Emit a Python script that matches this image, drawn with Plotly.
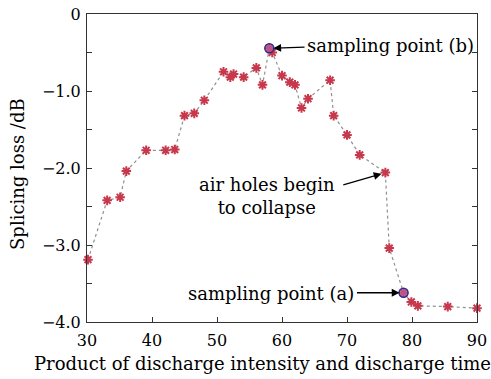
import plotly.graph_objects as go

x_vals = [30.15, 33.1, 35.1, 36.05, 39.1, 42.1, 43.5, 45.0, 46.5, 48.05, 51.0, 52.05, 52.55, 54.1,
          56.05, 57.0, 58.05, 58.5, 60.0, 61.2, 62.0, 63.0, 64.0, 67.4, 67.95, 70.0, 71.95, 75.9,
          76.5, 78.7, 79.9, 80.9, 85.5, 90.0]
y_vals = [-3.19, -2.42, -2.38, -2.04, -1.77, -1.77, -1.76, -1.32, -1.29, -1.12, -0.75, -0.82, -0.78,
          -0.82, -0.70, -0.92, -0.445, -0.50, -0.80, -0.885, -0.92, -1.22, -1.10, -0.86, -1.32,
          -1.57, -1.83, -2.06, -3.04, -3.62, -3.74, -3.79, -3.80, -3.82]
sample_x = [58.05, 78.7]
sample_y = [-0.445, -3.62]

x_ticks = [30, 40, 50, 60, 70, 80, 90]
y_ticks = [0, -0.5, -1.0, -1.5, -2.0, -2.5, -3.0, -3.5, -4.0]
y_ticktext = ["0", "", "\u22121.0", "", "\u22122.0", "", "\u22123.0", "", "\u22124.0"]

x_title = "Product of discharge intensity and discharge time"
y_title = "Splicing loss /dB"

FONT = "DejaVu Serif"

fig = go.Figure()
fig.add_trace(go.Scatter(
    x=x_vals, y=y_vals, mode="lines+markers", cliponaxis=False,
    line=dict(color="#909090", width=1.2, dash="dot"),
    marker=dict(symbol="asterisk-open", size=8, color="#c8384c",
                line=dict(color="#c8384c", width=2)),
    showlegend=False))
fig.add_trace(go.Scatter(
    x=sample_x, y=sample_y, mode="markers", cliponaxis=False,
    marker=dict(symbol="circle", size=9, color="rgba(190,90,150,0.75)",
                line=dict(color="#2c2c8c", width=1.5)),
    showlegend=False))

ann_font = dict(family=FONT, size=18, color="black")
annotations = [
    # sampling point (b)
    dict(x=58.05, y=-0.445, ax=63.7, ay=-0.43, axref="x", ayref="y", xref="x", yref="y",
         text="", showarrow=True, arrowhead=2, arrowsize=1.2, arrowwidth=1.3,
         arrowcolor="black", standoff=4),
    dict(x=76.7, y=-0.415, xref="x", yref="y", text="sampling point (b)",
         showarrow=False, font=ann_font),
    # air holes
    dict(x=75.9, y=-2.06, ax=69.2, ay=-2.225, axref="x", ayref="y", xref="x", yref="y",
         text="", showarrow=True, arrowhead=2, arrowsize=1.2, arrowwidth=1.3,
         arrowcolor="black", standoff=4),
    dict(x=57.75, y=-2.36, xref="x", yref="y", text="air holes begin<br>to collapse",
         showarrow=False, font=ann_font, align="center"),
    # sampling point (a)
    dict(x=78.7, y=-3.62, ax=71.3, ay=-3.62, axref="x", ayref="y", xref="x", yref="y",
         text="", showarrow=True, arrowhead=2, arrowsize=1.2, arrowwidth=1.3,
         arrowcolor="black", standoff=4),
    dict(x=58.35, y=-3.625, xref="x", yref="y", text="sampling point (a)",
         showarrow=False, font=ann_font),
    # axis titles
    dict(x=0.449, y=0, xref="paper", yref="paper", yshift=-41, text=x_title,
         showarrow=False, font=ann_font, xanchor="center", yanchor="middle"),
    dict(x=-0.18, y=0.48, xref="paper", yref="paper", text=y_title, textangle=-90,
         showarrow=False, font=ann_font, xanchor="center", yanchor="middle"),
]

fig.update_layout(
    width=491, height=379,
    margin=dict(l=87, r=14, t=14, b=57, autoexpand=False),
    paper_bgcolor="white", plot_bgcolor="white",
    font=dict(family=FONT, size=18, color="black"),
    annotations=annotations,
    xaxis=dict(range=[30, 90], tickvals=x_ticks, ticks="inside", ticklen=5,
               tickcolor="#333", showline=True, linecolor="#333", linewidth=1,
               mirror=True, showgrid=False, zeroline=False, automargin=False,
               ticklabelstandoff=4,
               tickfont=dict(family=FONT, size=16)),
    yaxis=dict(range=[-4, 0], tickvals=y_ticks, ticktext=y_ticktext, ticks="inside",
               ticklen=5, tickcolor="#333", showline=True, linecolor="#333", linewidth=1,
               mirror="ticks", showgrid=False, zeroline=False, automargin=False,
               ticklabelstandoff=2,
               tickfont=dict(family=FONT, size=16)),
)

fig.write_html("out.html", config={"displayModeBar": False},
               post_script="document.body.style.margin='0';document.body.style.overflow='hidden';")
